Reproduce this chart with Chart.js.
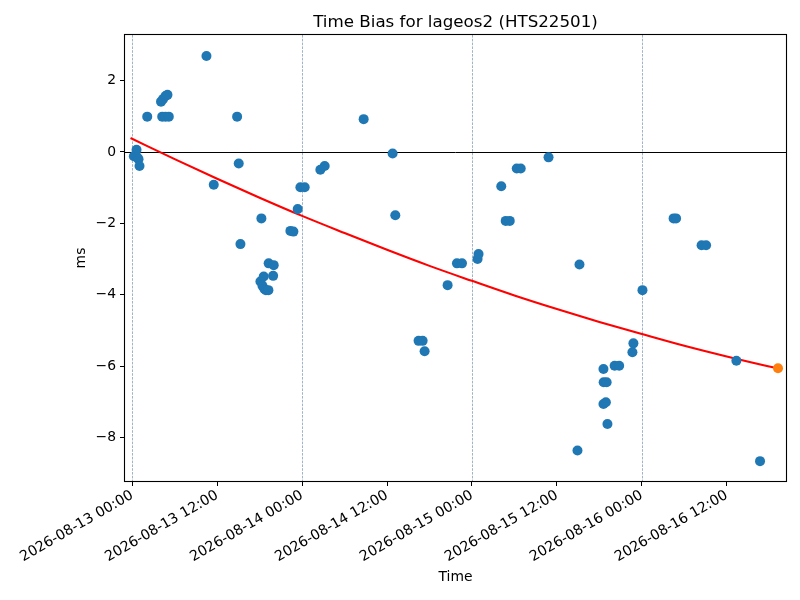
<!DOCTYPE html>
<html><head><meta charset="utf-8">
<script src="https://cdn.jsdelivr.net/npm/chart.js@4.4.0/dist/chart.umd.min.js"></script>
<style>html,body{margin:0;padding:0;background:#fff}#wrap{width:800px;height:600px}</style>
</head><body><div id="wrap"><canvas id="c" width="800" height="600"></canvas></div>
<script>
const titleText = 'Time Bias for lageos2 (HTS22501)';
const xTitle = 'Time';
const yTitle = 'ms';
// hours since 2026-08-13 00:00
const biasHours = [0.23,0.61,0.71,0.89,1.03,2.12,4.07,4.35,4.70,4.98,4.24,4.70,5.17,10.49,11.52,14.82,15.05,15.29,18.25,18.11,18.40,18.58,18.68,18.89,19.24,19.28,19.91,19.99,22.35,22.77,23.38,23.76,24.37,26.58,27.19,32.70,36.79,37.17,40.46,41.03,41.31,44.56,45.88,46.59,48.79,48.93,52.14,52.77,53.34,54.33,54.89,58.82,62.91,63.19,66.58,66.61,67.03,66.58,66.92,67.14,68.16,68.80,70.67,70.81,72.09,76.49,76.84,80.44,81.08,85.36,88.70];
const biasMs = [-0.12,0.06,-0.15,-0.20,-0.39,0.99,1.41,1.48,1.57,1.60,0.99,0.99,0.99,2.69,-0.92,0.99,-0.32,-2.58,-1.86,-3.63,-3.75,-3.49,-3.84,-3.87,-3.87,-3.12,-3.47,-3.17,-2.21,-2.23,-1.60,-0.99,-0.99,-0.50,-0.39,0.92,-0.04,-1.77,-5.29,-5.29,-5.58,-3.73,-3.12,-3.12,-3.00,-2.86,-0.96,-1.93,-1.93,-0.46,-0.46,-0.15,-8.36,-3.15,-6.08,-6.45,-6.45,-7.06,-7.01,-7.62,-5.99,-5.99,-5.61,-5.36,-3.87,-1.86,-1.86,-2.61,-2.61,-5.85,-8.66];
const lastHours = [91.24];
const lastMs = [-6.06];
const fitHours = [-0.24,6,12,18,24,30,36,42,48,54,60,66,72,78,84,90,91.24];
const fitMs = [0.39,-0.20,-0.75,-1.28,-1.79,-2.27,-2.74,-3.19,-3.61,-4.02,-4.40,-4.76,-5.10,-5.43,-5.73,-6.01,-6.06];
const xTickHours = [0,12,24,36,48,60,72,84];
const xTickLabels = ['2026-08-13 00:00','2026-08-13 12:00','2026-08-14 00:00','2026-08-14 12:00','2026-08-15 00:00','2026-08-15 12:00','2026-08-16 00:00','2026-08-16 12:00'];
const gridHours = [0,24,48,72];
const yTickValues = [-8,-6,-4,-2,0,2];
const xMin = -1.02, xMax = 92.37, yMin = -9.216, yMax = 3.277;

const FONT = 'DejaVu Sans';
const toPts = (xs, ys) => xs.map((v, i) => ({x: v, y: ys[i]}));

const deco = {
  id: 'deco',
  beforeDatasetsDraw(chart) {
    const {ctx, chartArea: a, scales: {x, y}} = chart;
    ctx.save();
    ctx.strokeStyle = 'rgba(85,120,155,0.8)';
    ctx.lineWidth = 0.7;
    ctx.setLineDash([2.6, 1.2]);
    gridHours.forEach(h => {
      const px = Math.round(x.getPixelForValue(h)) + 0.5;
      ctx.beginPath(); ctx.moveTo(px, a.top); ctx.lineTo(px, a.bottom); ctx.stroke();
    });
    ctx.setLineDash([]);
    ctx.strokeStyle = '#000';
    ctx.lineWidth = 1;
    const py = Math.round(y.getPixelForValue(0)) + 0.5;
    ctx.beginPath(); ctx.moveTo(a.left, py); ctx.lineTo(a.right, py); ctx.stroke();
    ctx.restore();
  },
  afterDraw(chart) {
    const {ctx, chartArea: a} = chart;
    ctx.save();
    ctx.strokeStyle = '#000';
    ctx.lineWidth = 1.1;
    ctx.strokeRect(a.left - 0.5, a.top - 0.5, a.right - a.left + 1, a.bottom - a.top + 1);
    const cx = (a.left + a.right) / 2;
    ctx.fillStyle = '#000';
    ctx.textAlign = 'center';
    ctx.textBaseline = 'alphabetic';
    ctx.font = '16.7px "' + FONT + '"';
    ctx.fillText(titleText, cx, a.top - 8.3);
    ctx.font = '13.9px "' + FONT + '"';
    ctx.textBaseline = 'middle';
    ctx.fillText(xTitle, cx, 577);
    ctx.translate(81, (a.top + a.bottom) / 2);
    ctx.rotate(-Math.PI / 2);
    ctx.fillText(yTitle, 0, 0);
    ctx.restore();
  }
};

new Chart(document.getElementById('c'), {
  type: 'scatter',
  data: {
    datasets: [
      {data: toPts(biasHours, biasMs), backgroundColor: '#1f77b4', borderWidth: 0, pointRadius: 5, pointHoverRadius: 5, order: 1},
      {data: toPts(lastHours, lastMs), backgroundColor: '#ff7f0e', borderWidth: 0, pointRadius: 5, pointHoverRadius: 5, order: 0},
      {type: 'line', data: toPts(fitHours, fitMs), borderColor: '#ff0000', borderWidth: 2.1, pointRadius: 0, fill: false, cubicInterpolationMode: 'monotone', order: 2}
    ]
  },
  options: {
    responsive: false,
    devicePixelRatio: 1,
    animation: false,
    layout: {padding: {top: 35, right: 14, left: 0, bottom: 0}},
    plugins: {legend: {display: false}, tooltip: {enabled: false}, title: {display: false}},
    scales: {
      x: {
        type: 'linear', min: xMin, max: xMax,
        afterBuildTicks: s => { s.ticks = xTickHours.map(v => ({value: v})); },
        afterFit: s => { s.height = 119; },
        border: {display: false},
        grid: {drawOnChartArea: false, tickColor: '#000', tickLength: 5, tickWidth: 1},
        ticks: {
          autoSkip: false, maxRotation: 30, minRotation: 30, padding: 1, color: '#000',
          font: {family: FONT, size: 14.2},
          callback: v => { const i = xTickHours.indexOf(v); return i >= 0 ? xTickLabels[i] : ''; }
        }
      },
      y: {
        type: 'linear', min: yMin, max: yMax,
        afterBuildTicks: s => { s.ticks = yTickValues.map(v => ({value: v})); },
        afterFit: s => { s.width = 125; },
        border: {display: false},
        grid: {drawOnChartArea: false, tickColor: '#000', tickLength: 5, tickWidth: 1},
        ticks: {
          padding: 4, color: '#000', font: {family: FONT, size: 13.9},
          callback: v => String(v).replace('-', '\u2212')
        }
      }
    }
  },
  plugins: [deco]
});
</script>
</body></html>
